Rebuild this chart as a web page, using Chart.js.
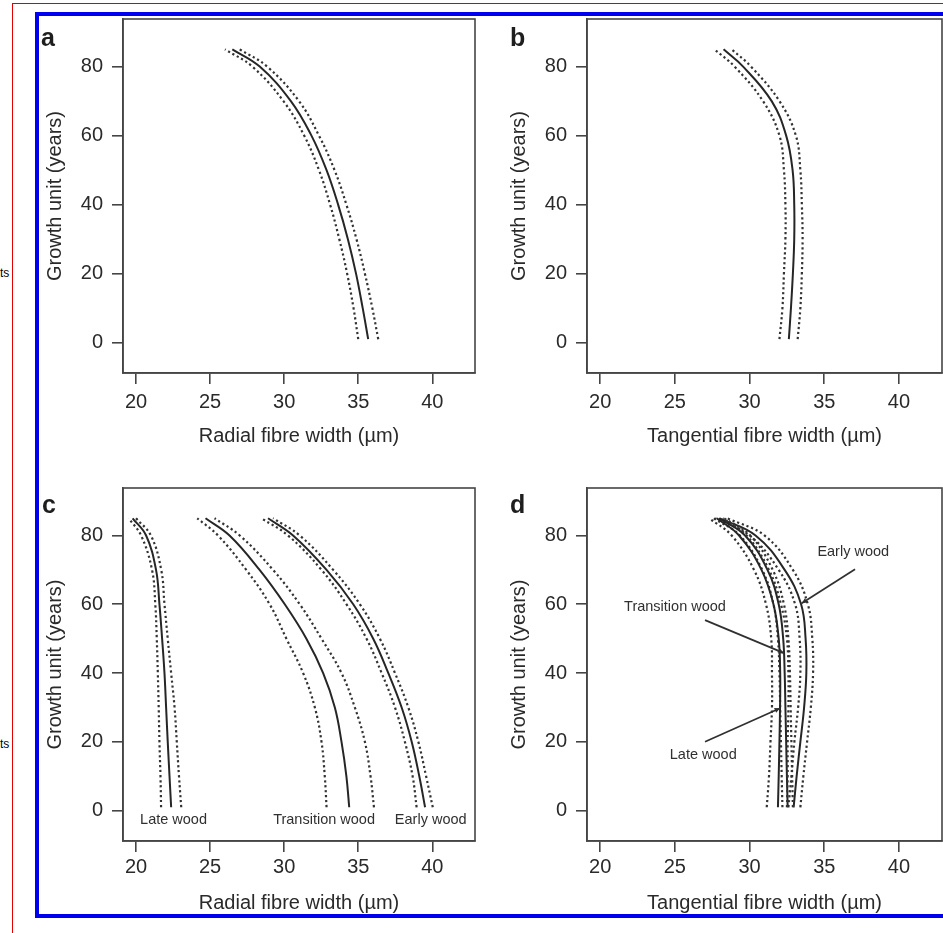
<!DOCTYPE html>
<html><head><meta charset="utf-8">
<script src="https://cdn.jsdelivr.net/npm/chart.js@4.4.1/dist/chart.umd.min.js"></script>
<style>
html,body{margin:0;padding:0;background:#fff;width:943px;height:933px;overflow:hidden;position:relative;font-family:"Liberation Sans",Arial,sans-serif;}
#red{position:absolute;left:12px;top:3px;width:1000px;height:1000px;border-left:1px solid #e00000;border-top:1px solid #e00000;}
#blue{position:absolute;left:35px;top:12px;width:1000px;height:898px;border:4px solid #0000f0;}
.ts{position:absolute;left:0;font-size:12px;color:#000;line-height:1;}
canvas{position:absolute;}
.lbl{position:absolute;font-weight:bold;font-size:25px;color:#1e1e1e;line-height:1;font-family:"Liberation Sans",Arial,sans-serif;}
</style>
</head><body>
<div id="red"></div>
<div class="ts" style="top:267px">ts</div>
<div class="ts" style="top:738px">ts</div>
<div id="blue"></div>
<canvas id="ca" width="440" height="436" style="left:40px;top:16px;width:440px;height:436px"></canvas>
<canvas id="cb" width="439" height="436" style="left:504px;top:16px;width:439px;height:436px"></canvas>
<canvas id="cc" width="440" height="434" style="left:40px;top:485px;width:440px;height:434px"></canvas>
<canvas id="cd" width="439" height="434" style="left:504px;top:485px;width:439px;height:434px"></canvas>
<div class="lbl" style="left:41px;top:25px">a</div>
<div class="lbl" style="left:510px;top:25px">b</div>
<div class="lbl" style="left:42px;top:492px">c</div>
<div class="lbl" style="left:510px;top:492px">d</div>
<script>
// ---- data ----
const growthUnit = [1, 10, 20, 30, 40, 50, 60, 70, 80, 85];
const xTicks = [20, 25, 30, 35, 40];
const yTicks = [0, 20, 40, 60, 80];

// panel a: radial fibre width
const aMean  = [35.67, 35.3, 34.85, 34.3, 33.64, 32.86, 31.84, 30.45, 28.35, 26.5];
const aLower = [35.0, 34.68, 34.25, 33.72, 33.1, 32.35, 31.35, 29.95, 27.85, 26.0];
const aUpper = [36.35, 35.95, 35.45, 34.88, 34.2, 33.4, 32.35, 31.0, 28.85, 27.0];

// panel b: tangential fibre width
const bMean  = [32.63, 32.77, 32.9, 32.99, 32.99, 32.88, 32.45, 31.48, 29.57, 28.26];
const bLower = [32.0, 32.2, 32.3, 32.4, 32.4, 32.3, 32.0, 30.9, 29.0, 27.65];
const bUpper = [33.22, 33.4, 33.5, 33.55, 33.5, 33.4, 33.1, 32.0, 30.1, 28.8];

// panel c: radial fibre width by wood type
const cLateMean  = [22.37, 22.26, 22.14, 22.03, 21.92, 21.76, 21.58, 21.35, 20.68, 19.77];
const cLateLower = [21.69, 21.65, 21.58, 21.53, 21.47, 21.4, 21.3, 21.08, 20.34, 19.5];
const cLateUpper = [23.05, 22.9, 22.75, 22.6, 22.37, 22.14, 21.92, 21.7, 21.0, 20.0];
const cTransMean  = [34.39, 34.2, 33.87, 33.42, 32.63, 31.5, 30.04, 28.34, 26.31, 24.69];
const cTransLower = [32.86, 32.74, 32.52, 32.07, 31.28, 30.15, 29.02, 27.44, 25.53, 24.13];
const cTransUpper = [36.06, 35.83, 35.45, 34.77, 33.87, 32.52, 31.05, 29.25, 27.0, 25.3];
const cEarlyMean  = [39.51, 39.12, 38.61, 37.93, 37.03, 36.01, 34.66, 32.86, 30.6, 28.91];
const cEarlyLower = [38.94, 38.67, 38.15, 37.48, 36.58, 35.56, 34.21, 32.52, 30.26, 28.46];
const cEarlyUpper = [40.03, 39.58, 39.06, 38.38, 37.48, 36.46, 35.11, 33.31, 31.05, 29.25];

// panel d: tangential fibre width by wood type
const dLateMean  = [31.9, 31.95, 32.0, 32.04, 32.05, 31.95, 31.6, 30.8, 29.3, 27.8];
const dLateLower = [31.15, 31.3, 31.4, 31.5, 31.5, 31.45, 31.1, 30.3, 28.8, 27.3];
const dLateUpper = [32.5, 32.55, 32.55, 32.6, 32.6, 32.5, 32.1, 31.3, 29.8, 28.2];
const dTransMean  = [32.55, 32.5, 32.45, 32.4, 32.35, 32.25, 31.95, 31.2, 29.7, 27.95];
const dTransLower = [32.2, 32.15, 32.1, 32.05, 32.0, 31.9, 31.6, 30.85, 29.35, 27.6];
const dTransUpper = [32.9, 32.85, 32.8, 32.75, 32.7, 32.6, 32.3, 31.55, 30.05, 28.3];
const dEarlyMean  = [32.95, 33.15, 33.4, 33.65, 33.8, 33.75, 33.45, 32.35, 30.4, 28.0];
const dEarlyLower = [32.6, 32.8, 33.0, 33.25, 33.4, 33.35, 33.05, 31.95, 30.0, 27.7];
const dEarlyUpper = [33.4, 33.6, 33.85, 34.1, 34.25, 34.2, 33.9, 32.9, 31.0, 28.5];

// ---- annotations (data coordinates) ----
const cNotes = [
  {text: 'Late wood', x: 22.53, y: -2.7},
  {text: 'Transition wood', x: 32.69, y: -2.7},
  {text: 'Early wood', x: 39.89, y: -2.7}
];
const dNotes = [
  {text: 'Early wood', x: 36.94, y: 75.3, from: [37.06, 70.2], to: [33.49, 60.3]},
  {text: 'Transition wood', x: 25.01, y: 59.3, from: [27.02, 55.4], to: [32.31, 45.8]},
  {text: 'Late wood', x: 26.9, y: 16.2, from: [27.02, 20.07], to: [32.04, 29.8]}
];

// ---- rendering ----
const FONT = '"Liberation Sans", Arial, sans-serif';
const TXT = '#2a2a2a';
const AX = '#454545';

function pts(xs){ return xs.map((x,i)=>({x:x, y:growthUnit[i]})); }
function solid(xs){ return {data:pts(xs), showLine:true, borderColor:'#262626', borderWidth:2, pointRadius:0, tension:0.4, fill:false}; }
function dotted(xs){ return {data:pts(xs), showLine:true, borderColor:'#333333', borderWidth:2.2, borderDash:[2.2,2.8], pointRadius:0, tension:0.4, fill:false}; }
function group(m,l,u){ return [dotted(l), dotted(u), solid(m)]; }

const boxPlugin = {
  id:'box',
  afterDraw(chart){
    const a = chart.chartArea, ctx = chart.ctx;
    ctx.save(); ctx.strokeStyle = AX; ctx.lineWidth = 1.6;
    ctx.strokeRect(a.left, a.top, a.right-a.left, a.bottom-a.top);
    ctx.restore();
  }
};
const notesPlugin = {
  id:'notes',
  afterDraw(chart, args, opts){
    const notes = opts.items || [];
    const sx = chart.scales.x, sy = chart.scales.y, ctx = chart.ctx;
    ctx.save();
    ctx.font = '14.5px ' + FONT; ctx.fillStyle = '#303030';
    ctx.textAlign = 'center'; ctx.textBaseline = 'middle';
    notes.forEach(n=>{
      ctx.fillText(n.text, sx.getPixelForValue(n.x), sy.getPixelForValue(n.y));
      if (n.from){
        const x1 = sx.getPixelForValue(n.from[0]), y1 = sy.getPixelForValue(n.from[1]);
        const x2 = sx.getPixelForValue(n.to[0]), y2 = sy.getPixelForValue(n.to[1]);
        ctx.strokeStyle = '#303030'; ctx.lineWidth = 1.7;
        ctx.beginPath(); ctx.moveTo(x1,y1); ctx.lineTo(x2,y2); ctx.stroke();
        const ang = Math.atan2(y2-y1, x2-x1), L = 6, W = 0.45;
        ctx.beginPath();
        ctx.moveTo(x2,y2);
        ctx.lineTo(x2 - L*Math.cos(ang-W), y2 - L*Math.sin(ang-W));
        ctx.lineTo(x2 - L*Math.cos(ang+W), y2 - L*Math.sin(ang+W));
        ctx.closePath(); ctx.fillStyle = '#303030'; ctx.fill();
      }
    });
    ctx.restore();
  }
};

function makeChart(id, datasets, xTitle, opt){
  new Chart(document.getElementById(id), {
    type:'scatter',
    data:{datasets:datasets},
    options:{
      responsive:false, animation:false, events:[],
      layout:{padding:{top:3, right:opt.padRight, left:0, bottom:0}},
      plugins:{legend:{display:false}, tooltip:{enabled:false}, notes:{items:opt.notes||[]}},
      scales:{
        x:{
          type:'linear', min:19.12, max:42.88,
          afterBuildTicks:s=>{ s.ticks = xTicks.map(v=>({value:v})); },
          afterFit:s=>{ s.height = opt.xHeight; s.paddingLeft = 0; s.paddingRight = 0; },
          grid:{drawOnChartArea:false, drawTicks:true, tickLength:11, color:AX, lineWidth:1.6},
          border:{display:true, color:AX, width:1.6},
          ticks:{font:{size:20, family:FONT}, color:TXT, padding:opt.xPad, maxRotation:0, autoSkip:false},
          title:{display:true, text:xTitle, font:{size:20, family:FONT}, color:TXT, padding:{top:0, bottom:4}}
        },
        y:{
          type:'linear', min:-8.8, max:93.8,
          afterBuildTicks:s=>{ s.ticks = yTicks.map(v=>({value:v})); },
          afterFit:s=>{ s.width = 83; s.paddingTop = 0; s.paddingBottom = 0; },
          grid:{drawOnChartArea:false, drawTicks:true, tickLength:11, color:AX, lineWidth:1.6},
          border:{display:true, color:AX, width:1.6},
          ticks:{font:{size:20, family:FONT}, color:TXT, padding:9, autoSkip:false},
          title:{display:true, text:'Growth unit (years)', font:{size:20, family:FONT}, color:TXT, padding:{top:3, bottom:0}}
        }
      }
    },
    plugins:[boxPlugin, notesPlugin]
  });
}

makeChart('ca', group(aMean,aLower,aUpper), 'Radial fibre width (µm)', {padRight:5, xHeight:79, xPad:6});
makeChart('cb', group(bMean,bLower,bUpper), 'Tangential fibre width (µm)', {padRight:1, xHeight:79, xPad:6});
makeChart('cc', [].concat(
  group(cLateMean,cLateLower,cLateUpper),
  group(cTransMean,cTransLower,cTransUpper),
  group(cEarlyMean,cEarlyLower,cEarlyUpper)), 'Radial fibre width (µm)', {padRight:5, xHeight:78, xPad:3, notes:cNotes});
makeChart('cd', [].concat(
  group(dLateMean,dLateLower,dLateUpper),
  group(dTransMean,dTransLower,dTransUpper),
  group(dEarlyMean,dEarlyLower,dEarlyUpper)), 'Tangential fibre width (µm)', {padRight:1, xHeight:78, xPad:3, notes:dNotes});
</script>
</body></html>
